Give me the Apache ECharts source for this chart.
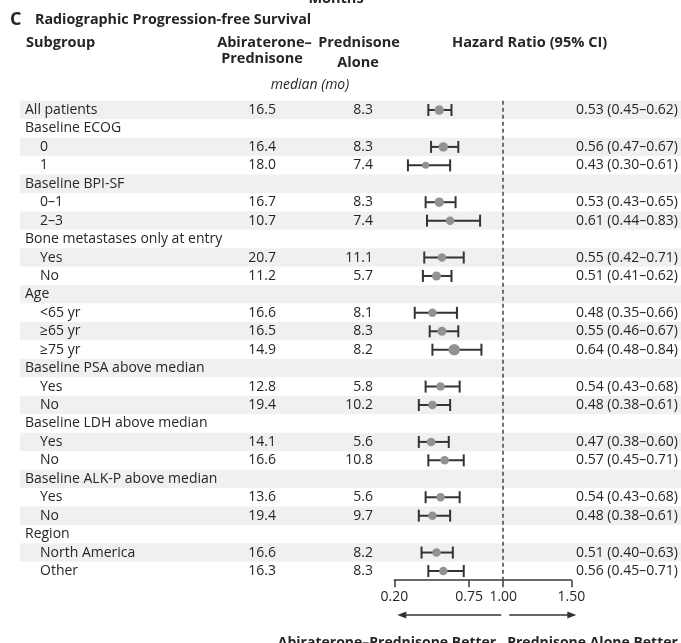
<!DOCTYPE html>
<html><head><meta charset="utf-8">
<script src="https://cdn.jsdelivr.net/npm/echarts@6/dist/echarts.min.js"></script>
<style>html,body{margin:0;padding:0;background:#fff}#c{width:681px;height:643px}</style>
</head><body><div id="c"></div>
<script>
const subgroups = ['All patients','Baseline ECOG','0','1','Baseline BPI-SF','0\u20131','2\u20133','Bone metastases only at entry','Yes','No','Age','<65 yr','\u226565 yr','\u226575 yr','Baseline PSA above median','Yes','No','Baseline LDH above median','Yes','No','Baseline ALK-P above median','Yes','No','Region','North America','Other'];
const indented = [0,0,1,1,0,1,1,0,1,1,0,1,1,1,0,1,1,0,1,1,0,1,1,0,1,1];
const abiMedian = ['16.5','','16.4','18.0','','16.7','10.7','','20.7','11.2','','16.6','16.5','14.9','','12.8','19.4','','14.1','16.6','','13.6','19.4','','16.6','16.3'];
const predMedian = ['8.3','','8.3','7.4','','8.3','7.4','','11.1','5.7','','8.1','8.3','8.2','','5.8','10.2','','5.6','10.8','','5.6','9.7','','8.2','8.3'];
const hr     = [0.53,null,0.56,0.43,null,0.53,0.61,null,0.55,0.51,null,0.48,0.55,0.64,null,0.54,0.48,null,0.47,0.57,null,0.54,0.48,null,0.51,0.56];
const ciLow  = [0.45,null,0.47,0.30,null,0.43,0.44,null,0.42,0.41,null,0.35,0.46,0.48,null,0.43,0.38,null,0.38,0.45,null,0.43,0.38,null,0.40,0.45];
const ciHigh = [0.62,null,0.67,0.61,null,0.65,0.83,null,0.71,0.62,null,0.66,0.67,0.84,null,0.68,0.61,null,0.60,0.71,null,0.68,0.61,null,0.63,0.71];
const markerSize = [9.5,null,9.5,7,null,9.5,8.5,null,8.5,9,null,8.5,9,11.5,null,8.5,8.5,null,8.5,8.5,null,8.5,8.5,null,8.5,8.5];
const axisTicks = [0.20, 0.75, 1.00, 1.50];

const FONT = '"Open Sans", "DejaVu Sans", sans-serif';
const TXT = '#262626';
const rowIdx = subgroups.map((_, i) => String(i));
const G_LEFT = 394.3, G_RIGHT = 108.7, G_TOP = 100.8, G_H = 479.4;

const chart = echarts.init(document.getElementById('c'), null, {renderer: 'canvas'});

function catAxis(extra) {
  return Object.assign({
    type: 'category', data: rowIdx, inverse: true, gridIndex: 0,
    axisLine: {show: false}, axisTick: {show: false}, splitLine: {show: false}, z: 3
  }, extra);
}
const lbl = (o) => Object.assign({interval: 0, fontFamily: FONT, fontSize: 14, color: TXT}, o);

const ciData = [], ptData = [];
hr.forEach((v, i) => {
  if (v == null) return;
  ciData.push([ciLow[i], ciHigh[i], String(i)]);
  ptData.push({value: [v, String(i)], symbolSize: markerSize[i]});
});

const option = {
  animation: false,
  backgroundColor: '#fff',
  grid: [
    {left: G_LEFT, right: G_RIGHT, top: G_TOP, height: G_H, containLabel: false},
    {left: 20, right: 0, top: G_TOP, height: G_H, containLabel: false}
  ],
  xAxis: [
    {type: 'value', gridIndex: 0, min: 0.2, max: 1.5,
     axisLine: {show: true, lineStyle: {color: '#3a3a3a', width: 1.5}},
     axisTick: {show: true, customValues: axisTicks, length: 7, lineStyle: {color: '#3a3a3a', width: 1.5}},
     axisLabel: {customValues: axisTicks, formatter: v => v.toFixed(2), margin: 10, fontFamily: FONT, fontSize: 14, color: TXT},
     splitLine: {show: false}},
    {type: 'value', gridIndex: 1, min: 0, max: 1, show: false}
  ],
  yAxis: [
    catAxis({position: 'left', axisLabel: lbl({align: 'left', margin: G_LEFT - 25,
      formatter: (v, i) => indented[i] ? '' : subgroups[i]})}),
    catAxis({position: 'left', axisLabel: lbl({align: 'left', margin: G_LEFT - 40,
      formatter: (v, i) => indented[i] ? subgroups[i] : ''})}),
    catAxis({position: 'left', axisLabel: lbl({align: 'right', margin: G_LEFT - 276,
      formatter: (v, i) => abiMedian[i]})}),
    catAxis({position: 'left', axisLabel: lbl({align: 'right', margin: G_LEFT - 373,
      formatter: (v, i) => predMedian[i]})}),
    catAxis({position: 'right', axisLabel: lbl({align: 'right', margin: 679 - (681 - G_RIGHT),
      formatter: (v, i) => hr[i] == null ? '' :
        hr[i].toFixed(2) + ' (' + ciLow[i].toFixed(2) + '\u2013' + ciHigh[i].toFixed(2) + ')'})}),
    {type: 'category', data: rowIdx, inverse: true, gridIndex: 1, z: 0,
     axisLine: {show: false}, axisTick: {show: false}, axisLabel: {show: false, interval: 0},
     splitArea: {show: true, interval: 0, areaStyle: {color: ['#eef0f2', '#ffffff']}}}
  ],
  series: [
    {type: 'custom', xAxisIndex: 0, yAxisIndex: 0, z: 4,
     encode: {x: [0, 1], y: 2},
     data: ciData,
     renderItem: (params, api) => {
       const y = api.value(2);
       const a = api.coord([api.value(0), y]);
       const b = api.coord([api.value(1), y]);
       const h = 6;
       const st = {stroke: '#333', lineWidth: 2};
       return {type: 'group', children: [
         {type: 'line', shape: {x1: a[0], y1: a[1], x2: b[0], y2: b[1]}, style: st},
         {type: 'line', shape: {x1: a[0], y1: a[1] - h, x2: a[0], y2: a[1] + h}, style: st},
         {type: 'line', shape: {x1: b[0], y1: b[1] - h, x2: b[0], y2: b[1] + h}, style: st}
       ]};
     }},
    {type: 'scatter', xAxisIndex: 0, yAxisIndex: 0, z: 5,
     symbol: 'circle', itemStyle: {color: '#929292', opacity: 1},
     data: ptData,
     markLine: {silent: true, symbol: ['none', 'none'], label: {show: false},
       lineStyle: {type: [4, 3], color: '#444', width: 1.5},
       data: [{xAxis: 1}]}}
  ]
};
chart.setOption(option);

const px = v => chart.convertToPixel({xAxisIndex: 0}, v);
const x02 = px(0.2), x1 = px(1.0), x15 = px(1.5);
const AY = 615;
const bold = (s) => 'bold ' + s + 'px ' + FONT;
const txt = (text, x, y, font, align) => ({type: 'text', x: x, y: y, silent: true,
  style: {text: text, font: font, fill: TXT, align: align || 'left', verticalAlign: 'middle'}});
const graphic = [
  txt('Months', 336, -1, bold(14.5), 'center'),
  txt('C', 10, 20, bold(18)),
  txt('Radiographic Progression-free Survival', 35, 20, bold(14.3)),
  txt('Subgroup', 26, 43, bold(14.5)),
  txt('Abiraterone\u2013', 264.5, 43, bold(14.5), 'center'),
  txt('Prednisone', 262, 59, bold(14.5), 'center'),
  txt('Prednisone', 359, 43, bold(14.5), 'center'),
  txt('Alone', 358, 63, bold(14.5), 'center'),
  txt('Hazard Ratio (95% CI)', 452, 43, bold(14.6)),
  txt('median (mo)', 310, 85, 'italic 14px ' + FONT, 'center'),
  {type: 'line', silent: true, shape: {x1: x02 + 8, y1: AY, x2: x1 - 2, y2: AY}, style: {stroke: '#333', lineWidth: 1.5}},
  {type: 'polygon', silent: true, shape: {points: [[x02 + 3, AY], [x02 + 12, AY - 3.5], [x02 + 12, AY + 3.5]]}, style: {fill: '#333'}},
  {type: 'line', silent: true, shape: {x1: x1 + 6, y1: AY, x2: x15, y2: AY}, style: {stroke: '#333', lineWidth: 1.5}},
  {type: 'polygon', silent: true, shape: {points: [[x15 + 5, AY], [x15 - 4, AY - 3.5], [x15 - 4, AY + 3.5]]}, style: {fill: '#333'}},
  txt('Abiraterone\u2013Prednisone Better', x1 - 7, 643, bold(14), 'right'),
  txt('Prednisone Alone Better', x1 + 4, 643, bold(14), 'left')
];
chart.setOption({graphic: graphic});
</script>
</body></html>
